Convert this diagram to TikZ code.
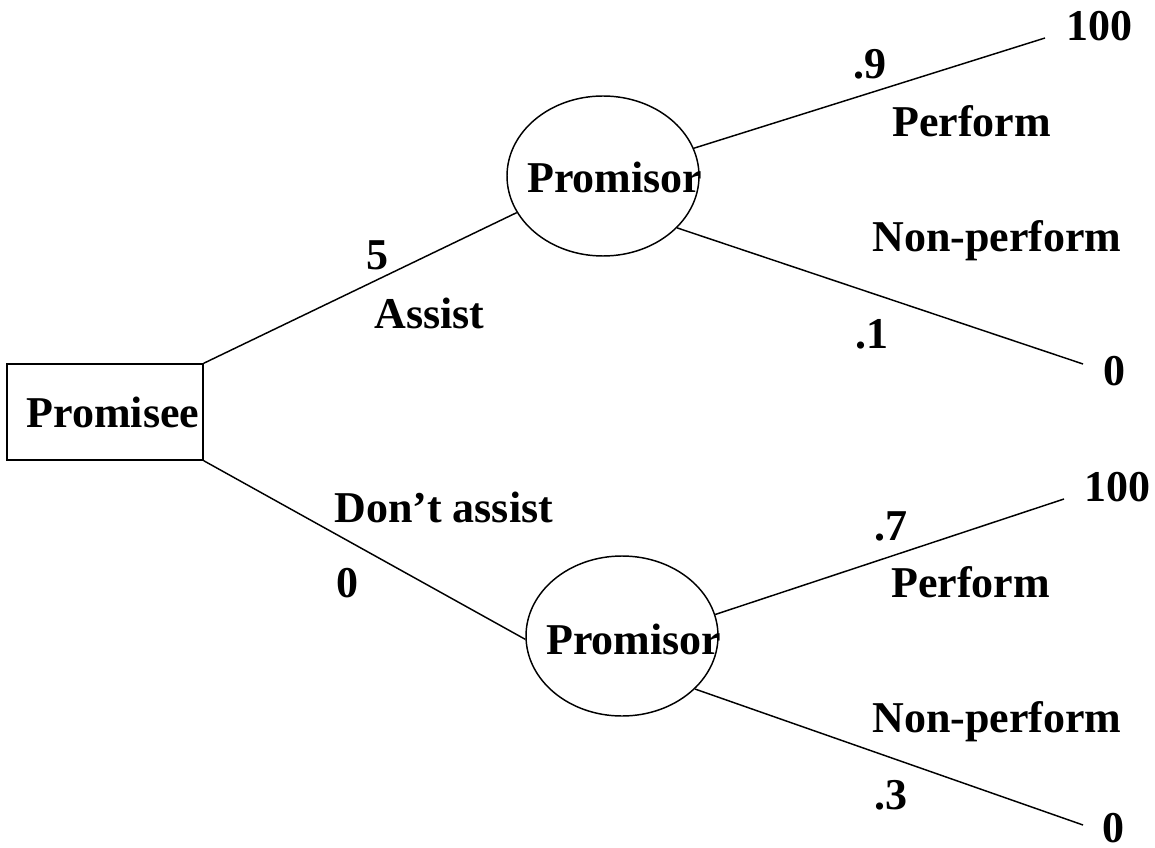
\documentclass[tikz,border=0pt]{standalone}
\usepackage{fontspec}
\setmainfont{Liberation Serif}
\usetikzlibrary{shapes.geometric}

\begin{document}
\begin{tikzpicture}[x=0.75pt,y=-0.75pt,
	lbl/.style={anchor=base west,inner sep=0pt,font=\fontsize{33}{40}\selectfont\bfseries},
	box/.style={draw,line width=1.1pt,minimum width=147pt,minimum height=72pt,inner sep=0pt,font=\fontsize{33}{40}\selectfont\bfseries},
	chance/.style={draw,ellipse,line width=1.1pt,minimum width=144pt,minimum height=120pt,inner sep=0pt},
	branch/.style={line width=1.1pt}]

		\useasboundingbox (0,0) rectangle (1155,848);

		\node[box] (promisee) at (105,412) {\hspace*{12pt}Promisee};
		\node[chance] (top) at (603,176) {};
		\node[chance] (bot) at (622,636) {};
		\node[lbl] (topname) at (527,193) {Promisor};
		\node[lbl] (botname) at (546,654) {Promisor};

		\coordinate (tw) at (1045,38);
		\coordinate (tl) at (1083,364);
		\coordinate (bw) at (1064,499);
		\coordinate (bl) at (1083,825);

		\draw[branch] (promisee.north east) -- (top.203);
		\draw[branch] (promisee.south east) -- (bot.182);
		\draw[branch] (top.17) -- (tw);
		\draw[branch] (top.-35) -- (tl);
		\draw[branch] (bot.13) -- (bw);
		\draw[branch] (bot.-36) -- (bl);

		\node[lbl] (v1) at (366,270) {5};
		\node[lbl] (assist) at (374,328) {Assist};
		\node[lbl] (dont) at (334,522) {Don’t assist};
		\node[lbl] (v2) at (336,597) {0};

		\node[lbl] (w1) at (1066,41) {100};
		\node[lbl] (p1) at (853,79) {.9};
		\node[lbl] (perf1) at (892,137) {Perform};
		\node[lbl] (np1) at (872,252) {Non-perform};
		\node[lbl] (q1) at (855,348) {.1};
		\node[lbl] (l1) at (1103,385) {0};

		\node[lbl] (w2) at (1084,501) {100};
		\node[lbl] (p2) at (874,540) {.7};
		\node[lbl] (perf2) at (891,597) {Perform};
		\node[lbl] (np2) at (872,732) {Non-perform};
		\node[lbl] (q2) at (874,809) {.3};
		\node[lbl] (l2) at (1102,842) {0};

	\end{tikzpicture}
\end{document}
